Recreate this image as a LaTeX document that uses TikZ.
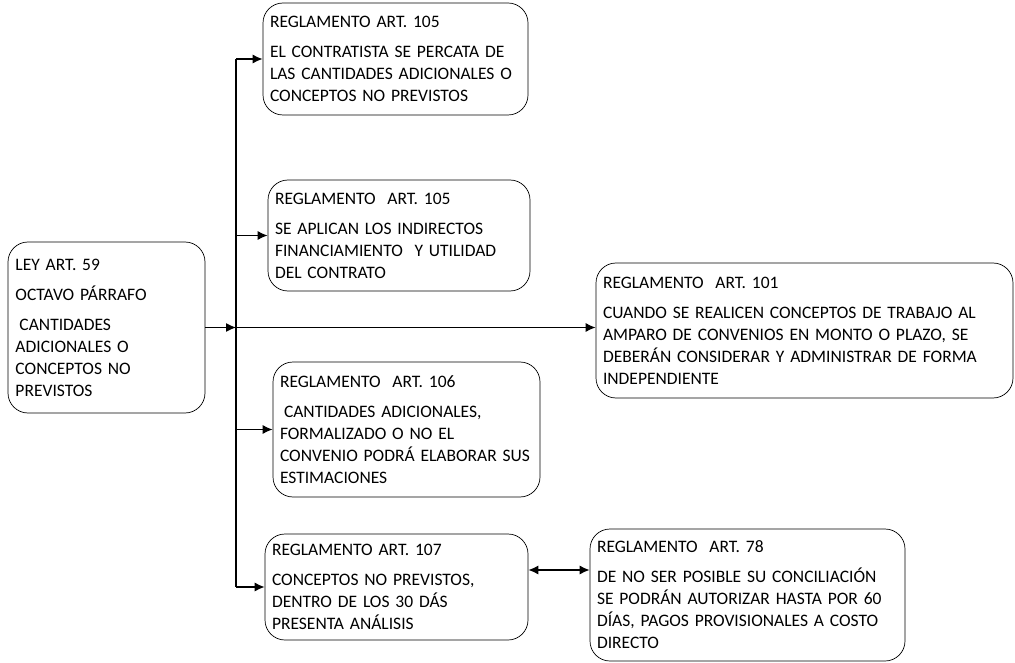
\documentclass[tikz,border=0pt]{standalone}
\usepackage{fontspec}
\setmainfont{Carlito}
\usetikzlibrary{arrows.meta}
\tikzset{
	caja/.style={draw, rounded corners=20pt, align=left, inner xsep=7pt, inner ysep=4pt, line width=0.7pt, font=\fontsize{17.5}{22}\selectfont},
	flecha/.style={line width=1.2pt, -{Latex[length=10pt,width=9pt]}},
	doble/.style={line width=1.2pt, {Latex[length=10pt,width=9pt]}-{Latex[length=10pt,width=9pt]}},
	tronco/.style={line width=1.2pt},
}
\begin{document}
\begin{tikzpicture}[x=1pt,y=-1pt]
				\useasboundingbox (0,0) rectangle (1015,663);
				\coordinate (T) at (236,0);
				\coordinate (Y) at (0,570);
				\node[caja, minimum width=197pt, text width=182pt, minimum height=171pt] (ley) at (106.5,327.5) {LEY ART. 59\\[8pt] OCTAVO PÁRRAFO\\[8pt] \hspace*{4pt}CANTIDADES\\ ADICIONALES O\\ CONCEPTOS NO\\ PREVISTOS};
				\node[caja, minimum width=265pt, text width=251pt, minimum height=112pt] (r105a) at (395.5,59) {REGLAMENTO ART. 105\\[8pt] EL CONTRATISTA SE PERCATA DE\\ LAS CANTIDADES ADICIONALES O\\ CONCEPTOS NO PREVISTOS};
				\node[caja, minimum width=262pt, text width=248pt, minimum height=111pt] (r105b) at (399,235.5) {REGLAMENTO\ \ ART. 105\\[8pt] SE APLICAN LOS INDIRECTOS\\ FINANCIAMIENTO\ \ Y UTILIDAD\\ DEL CONTRATO};
				\node[caja, minimum width=417pt, text width=403pt, minimum height=135pt] (r101) at (804.5,330.5) {REGLAMENTO\ \ ART. 101\\[8pt] CUANDO SE REALICEN CONCEPTOS DE TRABAJO AL\\ AMPARO DE CONVENIOS EN MONTO O PLAZO, SE\\ DEBERÁN CONSIDERAR Y ADMINISTRAR DE FORMA\\ INDEPENDIENTE};
				\node[caja, minimum width=267pt, text width=253pt, minimum height=135pt] (r106) at (406.5,429.5) {REGLAMENTO\ \ ART. 106\\[8pt] \hspace*{4pt}CANTIDADES ADICIONALES,\\ FORMALIZADO O NO EL\\ CONVENIO PODRÁ ELABORAR SUS\\ ESTIMACIONES};
				\node[caja, minimum width=263pt, text width=249pt, minimum height=106pt] (r107) at (396.5,587) {REGLAMENTO ART. 107\\[8pt] CONCEPTOS NO PREVISTOS,\\ DENTRO DE LOS 30 DÁS\\ PRESENTA ANÁLISIS};
				\node[caja, minimum width=315pt, text width=301pt, minimum height=132pt] (r78) at (747.5,595) {REGLAMENTO\ \ ART. 78\\[8pt] DE NO SER POSIBLE SU CONCILIACIÓN\\ SE PODRÁN AUTORIZAR HASTA POR 60\\ DÍAS, PAGOS PROVISIONALES A COSTO\\ DIRECTO};
				\draw[tronco] (T |- r105a.west) to (T |- r107.west);
				\draw[flecha] (T |- r105a.west) to (r105a.west);
				\draw[flecha] (T |- r105b.west) to (r105b.west);
				\draw[flecha] (ley.east) to (T |- ley.east);
				\draw[flecha] (T |- ley.east) to (r101.west |- ley.east);
				\draw[flecha] (T |- r106.west) to (r106.west);
				\draw[flecha] (T |- r107.west) to (r107.west);
				\draw[doble] (r107.east |- Y) to (r78.west |- Y);
			\end{tikzpicture}
\end{document}
